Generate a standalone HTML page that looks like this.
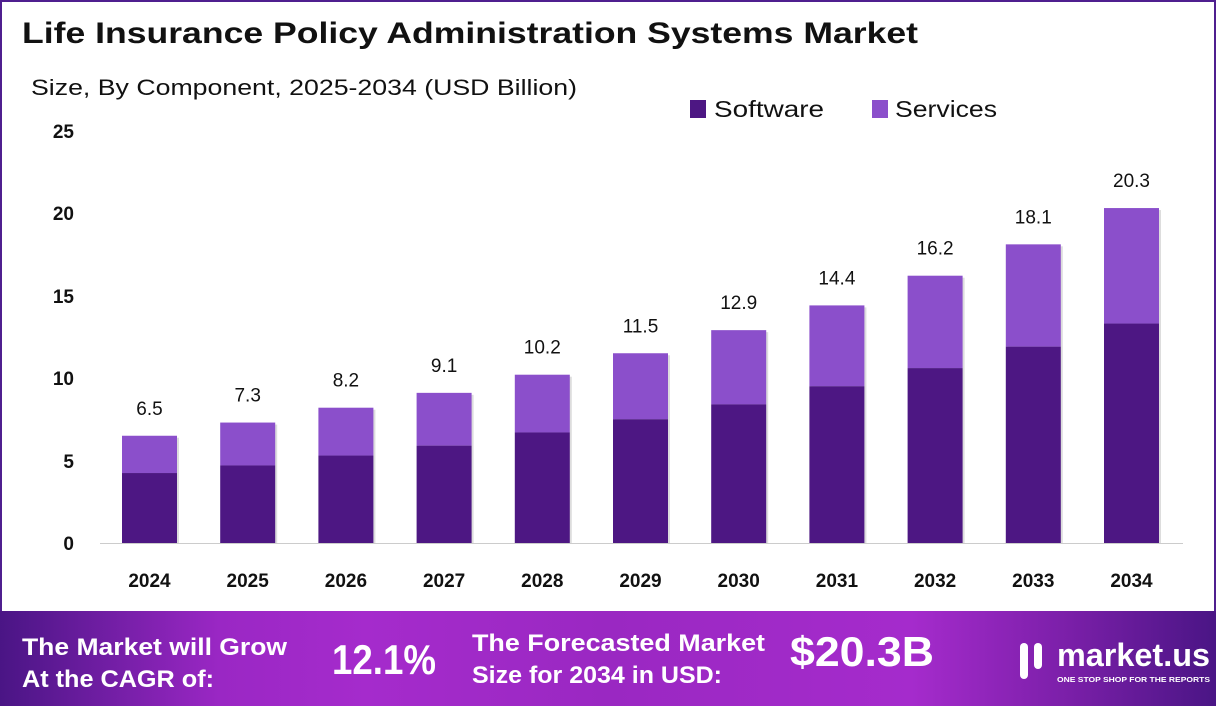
<!DOCTYPE html>
<html><head><meta charset="utf-8"><style>
html,body{margin:0;padding:0;background:#fff;}
body{width:1216px;height:706px;overflow:hidden;position:relative;font-family:"Liberation Sans",sans-serif;}
.frame{position:absolute;left:0;top:0;width:1212px;height:700px;border:2px solid #4f1f8f;border-bottom:none;box-sizing:content-box;}
.banner{position:absolute;left:0;top:611px;width:1216px;height:95px;background:linear-gradient(90deg,#4a1585 0%,#9a27c4 18%,#a52bcc 30%,#9a28c2 50%,#a52bcc 75%,#7a1fa8 88%,#4a1585 100%);}
</style></head><body>
<div class="frame"></div>
<svg width="1216" height="611" style="position:absolute;left:0;top:0" font-family="Liberation Sans, sans-serif">
<text x="22" y="43" font-size="30" font-weight="bold" fill="#111" textLength="896" lengthAdjust="spacingAndGlyphs">Life Insurance Policy Administration Systems Market</text>
<text x="31" y="95" font-size="22" fill="#111" textLength="546" lengthAdjust="spacingAndGlyphs">Size, By Component, 2025-2034 (USD Billion)</text>
<rect x="690" y="100" width="16" height="18" fill="#4d1783"/>
<text x="714" y="117" font-size="23" fill="#111" textLength="110" lengthAdjust="spacingAndGlyphs">Software</text>
<rect x="872" y="100" width="16" height="18" fill="#8b4fcb"/>
<text x="895" y="117" font-size="23" fill="#111" textLength="102" lengthAdjust="spacingAndGlyphs">Services</text>
<g font-size="19" font-weight="bold" fill="#111" text-anchor="end">
<text x="74" y="138">25</text><text x="74" y="220">20</text><text x="74" y="303">15</text>
<text x="74" y="385">10</text><text x="74" y="468">5</text><text x="74" y="550">0</text>
</g>
<line x1="100" y1="543.5" x2="1183" y2="543.5" stroke="#ccc" stroke-width="1"/>
<g id="bars"></g>
<g font-size="19" font-weight="bold" fill="#111" text-anchor="middle" id="xl"></g>
<g font-size="19" fill="#111" text-anchor="middle" id="vl"></g>
</svg>
<div class="banner"></div>
<svg width="1216" height="95" style="position:absolute;left:0;top:611px" font-family="Liberation Sans, sans-serif" font-weight="bold" fill="#fff">
<text x="22" y="44" font-size="24" textLength="265" lengthAdjust="spacingAndGlyphs">The Market will Grow</text>
<text x="22" y="76" font-size="24" textLength="192" lengthAdjust="spacingAndGlyphs">At the CAGR of:</text>
<text x="332" y="63" font-size="42" textLength="104" lengthAdjust="spacingAndGlyphs">12.1%</text>
<text x="472" y="40" font-size="24" textLength="293" lengthAdjust="spacingAndGlyphs">The Forecasted Market</text>
<text x="472" y="72" font-size="24" textLength="250" lengthAdjust="spacingAndGlyphs">Size for 2034 in USD:</text>
<text x="790" y="55" font-size="42" textLength="144" lengthAdjust="spacingAndGlyphs">$20.3B</text>
<rect x="1020" y="32" width="8" height="36" rx="4"/><rect x="1034" y="32" width="8" height="26" rx="4"/>
<text x="1057" y="55" font-size="32" textLength="153" lengthAdjust="spacingAndGlyphs">market.us</text>
<text x="1057" y="71" font-size="7" textLength="153" lengthAdjust="spacingAndGlyphs">ONE STOP SHOP FOR THE REPORTS</text>
</svg>
<script>
var sw=[4.24,4.7,5.3,5.9,6.7,7.5,8.4,9.5,10.6,11.9,13.3];
var tot=[6.5,7.3,8.2,9.1,10.2,11.5,12.9,14.4,16.2,18.1,20.3];
var ns="http://www.w3.org/2000/svg",b=document.getElementById("bars"),xl=document.getElementById("xl"),vl=document.getElementById("vl");
function r(g,x,y,w,h,f){var e=document.createElementNS(ns,"rect");e.setAttribute("x",x);e.setAttribute("y",y);e.setAttribute("width",w);e.setAttribute("height",h);e.setAttribute("fill",f);g.appendChild(e);}
function t(g,x,y,s){var e=document.createElementNS(ns,"text");e.setAttribute("x",x);e.setAttribute("y",y);e.textContent=s;g.appendChild(e);}
for(var i=0;i<11;i++){var cx=149.5+i*98.2,x=cx-27.5,z=543,k=16.5;
var ys=z-sw[i]*k,yt=z-tot[i]*k;
r(b,x+2,yt+2,55,z-yt-2,"#ddd");
r(b,x,yt,55,ys-yt,"#8b4fcb");r(b,x,ys,55,z-ys,"#4d1783");
t(xl,cx,587,String(2024+i));t(vl,cx,yt-21,tot[i].toFixed(1));}
</script>
</body></html>
